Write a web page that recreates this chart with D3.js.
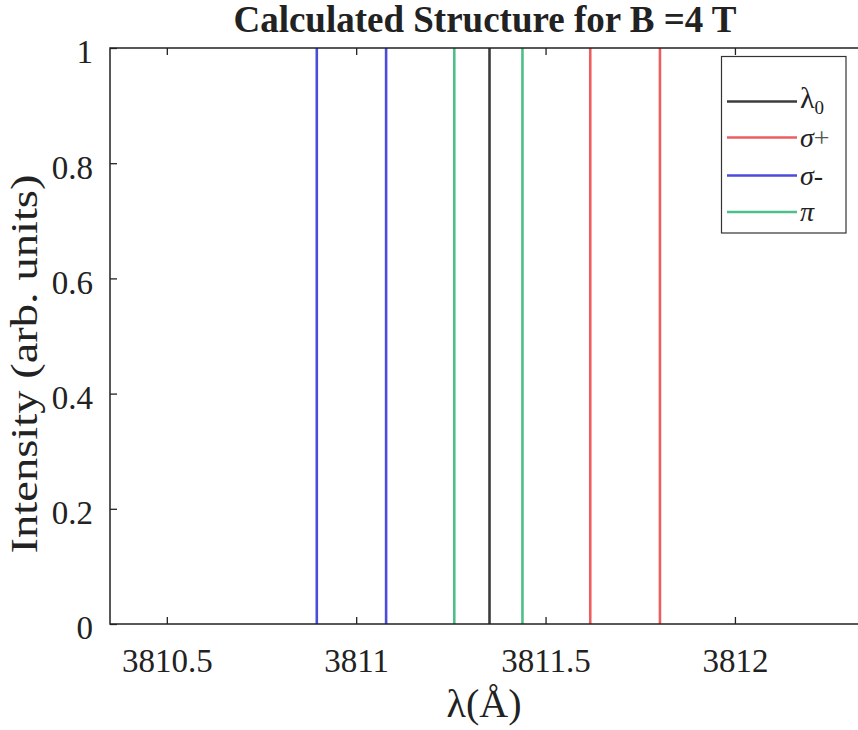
<!DOCTYPE html>
<html>
<head>
<meta charset="utf-8">
<script src="https://cdn.jsdelivr.net/npm/d3@7"></script>
<style>
  html, body { margin: 0; padding: 0; background: #fff; }
  svg { display: block; }
  text { font-family: "Liberation Serif", "Times New Roman", serif; fill: #222; }
</style>
</head>
<body>
<svg id="chart" width="858" height="730"></svg>
<script>
// ---- data ----
const titleText = "Calculated Structure for B =4 T";
const xTicks = [3810.5, 3811, 3811.5, 3812];
const xTickLabels = ["3810.5", "3811", "3811.5", "3812"];
const yTicks = [0, 0.2, 0.4, 0.6, 0.8, 1];
const yTickLabels = ["0", "0.2", "0.4", "0.6", "0.8", "1"];
const xDomain = [3810.35, 3812.35];
const yDomain = [0, 1];

const lambda0 = [3811.352];
const sigmaPlus = [3811.618, 3811.802];
const sigmaMinus = [3810.896, 3811.079];
const piLines = [3811.259, 3811.439];
const lineIntensity = 1;

const seriesNames = ["lambda0", "sigmaPlus", "sigmaMinus", "pi"];
const seriesColors = ["#3c3c3c", "#ee5e5e", "#4b4bdc", "#4dbf88"];
const seriesData = [lambda0, sigmaPlus, sigmaMinus, piLines];

// ---- layout ----
const svg = d3.select("#chart");
const L = 110, R = 867.5, T = 48, B = 624;
const x = d3.scaleLinear().domain(xDomain).range([L, R]);
const y = d3.scaleLinear().domain(yDomain).range([B, T]);

svg.append("rect").attr("width", 858).attr("height", 730).attr("fill", "#fff");

// spectral lines
seriesData.forEach((arr, i) => {
  svg.append("g").selectAll("line").data(arr).join("line")
    .attr("x1", d => x(d)).attr("x2", d => x(d))
    .attr("y1", y(0)).attr("y2", y(lineIntensity))
    .attr("stroke", seriesColors[i]).attr("stroke-width", 2.6);
});

// axes (ticks inward)
const axB = svg.append("g").attr("transform", `translate(0,${B})`)
  .call(d3.axisBottom(x).tickValues(xTicks).tickSize(-7).tickFormat((d, i) => xTickLabels[i]));
const axT = svg.append("g").attr("transform", `translate(0,${T})`)
  .call(d3.axisTop(x).tickValues(xTicks).tickSize(-7).tickFormat(""));
const axL = svg.append("g").attr("transform", `translate(${L},0)`)
  .call(d3.axisLeft(y).tickValues(yTicks).tickSize(-7).tickFormat((d, i) => yTickLabels[i]));
const axR = svg.append("g").attr("transform", `translate(${R},0)`)
  .call(d3.axisRight(y).tickValues(yTicks).tickSize(-7).tickFormat(""));

[axB, axT, axL, axR].forEach(g => {
  g.select(".domain").remove();
  g.selectAll(".tick line").attr("stroke", "#222").attr("stroke-width", 1.3);
});

axB.selectAll(".tick text")
  .attr("y", 48).attr("dy", null)
  .style("font-family", '"Liberation Serif", serif').style("font-size", "33px").attr("fill", "#222");
axL.selectAll(".tick text")
  .attr("x", -17).attr("dy", "0.45em")
  .style("font-family", '"Liberation Serif", serif').style("font-size", "33px").attr("fill", "#222");

// box
svg.append("rect").attr("x", L).attr("y", T).attr("width", R - L).attr("height", B - T)
  .attr("fill", "none").attr("stroke", "#222").attr("stroke-width", 1.5);

// title
svg.append("text").attr("x", 485).attr("y", 32).attr("text-anchor", "middle")
  .style("font-size", "37px").style("font-weight", "bold").attr("fill", "#111")
  .text(titleText);

// x label
const xl = svg.append("text").attr("x", 484).attr("y", 717).attr("text-anchor", "middle")
  .style("font-size", "40px");
xl.append("tspan").text("λ(Å)");

// y label
svg.append("text")
  .attr("transform", "translate(37,364) rotate(-90)")
  .attr("text-anchor", "middle")
  .style("font-size", "38px")
  .attr("textLength", 379).attr("lengthAdjust", "spacingAndGlyphs")
  .text("Intensity (arb. units)");

// legend
const leg = svg.append("g");
leg.append("rect").attr("x", 721.5).attr("y", 56.5).attr("width", 124.5).attr("height", 176.5)
  .attr("fill", "#fff").attr("stroke", "#333").attr("stroke-width", 1.2);
const legY = [101.5, 137.5, 175.5, 212];
seriesNames.forEach((n, i) => {
  leg.append("line").attr("x1", 727).attr("x2", 797).attr("y1", legY[i]).attr("y2", legY[i])
    .attr("stroke", seriesColors[i]).attr("stroke-width", 2.6);
});
const lt = (i, dyy) => leg.append("text").attr("x", 800).attr("y", legY[i] + dyy).style("font-size", "28px");
const t0 = lt(0, 6);
t0.append("tspan").text("λ").style("font-size", "30px");
t0.append("tspan").text("0").attr("dy", 6).style("font-size", "19px");
const t1 = lt(1, 9);
t1.append("tspan").text("σ").style("font-style", "italic");
t1.append("tspan").text("+").attr("fill", "#555");
const t2 = lt(2, 9);
t2.append("tspan").text("σ").style("font-style", "italic");
t2.append("tspan").text("-");
const t3 = lt(3, 9);
t3.append("tspan").text("π").style("font-style", "italic");
</script>
</body>
</html>
